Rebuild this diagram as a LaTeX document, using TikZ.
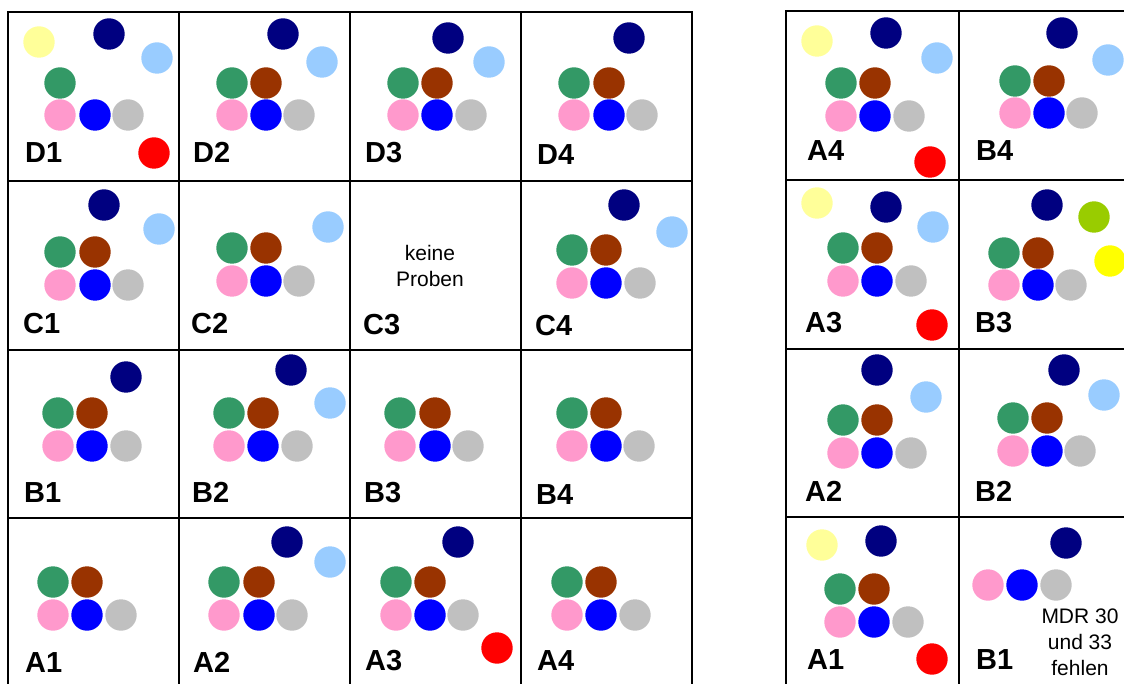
\documentclass[tikz,border=0pt]{standalone}
\usepackage{fontspec}
\setmainfont{Liberation Sans}
\usetikzlibrary{positioning}
\definecolor{pNavy}{HTML}{000080}
\definecolor{pSky}{HTML}{99CCFF}
\definecolor{pGreen}{HTML}{339966}
\definecolor{pBrown}{HTML}{993300}
\definecolor{pPink}{HTML}{FF99CC}
\definecolor{pBlue}{HTML}{0000FF}
\definecolor{pGrey}{HTML}{C0C0C0}
\definecolor{pRed}{HTML}{FF0000}
\definecolor{pCream}{HTML}{FFFF99}
\definecolor{pLime}{HTML}{99CC00}
\definecolor{pYellow}{HTML}{FFFF00}
\tikzset{
    gridline/.style={line width=2.6pt, draw=black, line cap=rect},
    cell/.style={font=\fontsize{29}{34}\selectfont\bfseries, inner sep=0pt, anchor=base west},
    note/.style={font=\fontsize{21}{26}\selectfont, align=center, inner sep=0pt}
}
\newcommand{\probes}[1]{\foreach \pc/\px/\py in {#1} \fill[fill=\pc] (\px,\py) circle[radius=15.7pt];}

\begin{document}
\begin{tikzpicture}[x=1pt, y=-1pt]
\useasboundingbox (0,0) rectangle (1124,684);
% grid left
\foreach \gx in {8,179,350,521,692} \draw[gridline] (\gx,12) -- (\gx,684);
\foreach \gy in {12,181,350,518} \draw[gridline] (8,\gy) -- (692,\gy);
% grid right
\foreach \gx in {786,959} \draw[gridline] (\gx,11) -- (\gx,684);
\foreach \gy in {11,180,349,517} \draw[gridline] (786,\gy) -- (1124,\gy);

% row D
\probes{pCream/39/42, pNavy/109/34, pSky/157/58, pGreen/60/83, pPink/60/115, pBlue/95/115, pGrey/128/115, pRed/154/153}
\probes{pNavy/283/34, pSky/322/62, pGreen/232/83, pBrown/266/83, pPink/232/115, pBlue/266/115, pGrey/299/115}
\probes{pNavy/448/38, pSky/489/62, pGreen/403/83, pBrown/437/83, pPink/403/115, pBlue/437/115, pGrey/471/115}
\probes{pNavy/629/38, pGreen/574/83, pBrown/609/83, pPink/574/115, pBlue/609/115, pGrey/642/115}
\node[cell] (lblD1) at (25,163) {D1};
\node[cell] (lblD2) at (193,163) {D2};
\node[cell] (lblD3) at (365,163) {D3};
\node[cell] (lblD4) at (537,165) {D4};
% row C
\probes{pNavy/104/205, pSky/159/229, pGreen/60/252, pBrown/95/252, pPink/60/285, pBlue/95/285, pGrey/128/285}
\probes{pSky/328/227, pGreen/232/248, pBrown/266/248, pPink/232/281, pBlue/266/281, pGrey/299/281}
\probes{pNavy/624/205, pSky/672/232, pGreen/572/250, pBrown/606/250, pPink/572/283, pBlue/606/283, pGrey/640/283}
\node[note] (noneC3) at (430,266) {keine\\Proben};
\node[cell] (lblC1) at (23,334) {C1};
\node[cell] (lblC2) at (191,334) {C2};
\node[cell] (lblC3) at (363,335) {C3};
\node[cell] (lblC4) at (535,336) {C4};
% row B
\probes{pNavy/126/377, pGreen/58/413, pBrown/92/413, pPink/58/446, pBlue/92/446, pGrey/126/446}
\probes{pNavy/291/370, pSky/330/403, pGreen/229/413, pBrown/263/413, pPink/229/446, pBlue/263/446, pGrey/297/446}
\probes{pGreen/400/413, pBrown/435/413, pPink/400/446, pBlue/435/446, pGrey/468/446}
\probes{pGreen/572/413, pBrown/606/413, pPink/572/446, pBlue/606/446, pGrey/639/446}
\node[cell] (lblB1) at (24,502) {B1};
\node[cell] (lblB2) at (192,502) {B2};
\node[cell] (lblB3) at (364,502) {B3};
\node[cell] (lblB4) at (536,504) {B4};
% row A
\probes{pGreen/53/582, pBrown/87/582, pPink/53/615, pBlue/87/615, pGrey/121/615}
\probes{pNavy/287/542, pSky/330/562, pGreen/224/582, pBrown/259/582, pPink/224/615, pBlue/259/615, pGrey/292/615}
\probes{pNavy/458/542, pGreen/396/582, pBrown/430/582, pPink/396/615, pBlue/430/615, pGrey/463/615, pRed/497/648}
\probes{pGreen/567/582, pBrown/601/582, pPink/567/615, pBlue/601/615, pGrey/635/615}
\node[cell] (lblA1) at (25,672) {A1};
\node[cell] (lblA2) at (193,672) {A2};
\node[cell] (lblA3) at (365,670) {A3};
\node[cell] (lblA4) at (537,670) {A4};

% right grid
\probes{pCream/817/41, pNavy/886/33, pSky/937/58, pGreen/841/83, pBrown/875/83, pPink/841/116, pBlue/875/116, pGrey/909/116, pRed/930/162}
\probes{pNavy/1062/33, pSky/1108/60, pGreen/1015/81, pBrown/1049/81, pPink/1015/113, pBlue/1049/113, pGrey/1082/113}
\node[cell] (lblRA4) at (807,161) {A4};
\node[cell] (lblRB4) at (976,161) {B4};
\probes{pCream/817/203, pNavy/886/207, pSky/933/227, pGreen/843/248, pBrown/877/248, pPink/843/281, pBlue/877/281, pGrey/911/281, pRed/932/325}
\probes{pNavy/1047/205, pLime/1094/217, pYellow/1110/261, pGreen/1004/253, pBrown/1038/253, pPink/1004/285, pBlue/1038/285, pGrey/1071/285}
\node[cell] (lblRA3) at (805,333) {A3};
\node[cell] (lblRB3) at (975,333) {B3};
\probes{pNavy/877/370, pSky/926/397, pGreen/843/420, pBrown/877/420, pPink/843/453, pBlue/877/453, pGrey/911/453}
\probes{pNavy/1064/370, pSky/1104/395, pGreen/1013/418, pBrown/1047/418, pPink/1013/451, pBlue/1047/451, pGrey/1080/451}
\node[cell] (lblRA2) at (805,501) {A2};
\node[cell] (lblRB2) at (975,501) {B2};
\probes{pCream/822/545, pNavy/881/541, pGreen/840/589, pBrown/874/589, pPink/840/622, pBlue/874/622, pGrey/908/622, pRed/932/659}
\probes{pNavy/1066/543, pPink/988/585, pBlue/1022/585, pGrey/1056/585}
\node[note] (noneB1) at (1080,642) {MDR 30\\und 33\\fehlen};
\node[cell] (lblRA1) at (807,669) {A1};
\node[cell] (lblRB1) at (976,669) {B1};
\end{tikzpicture}
\end{document}
